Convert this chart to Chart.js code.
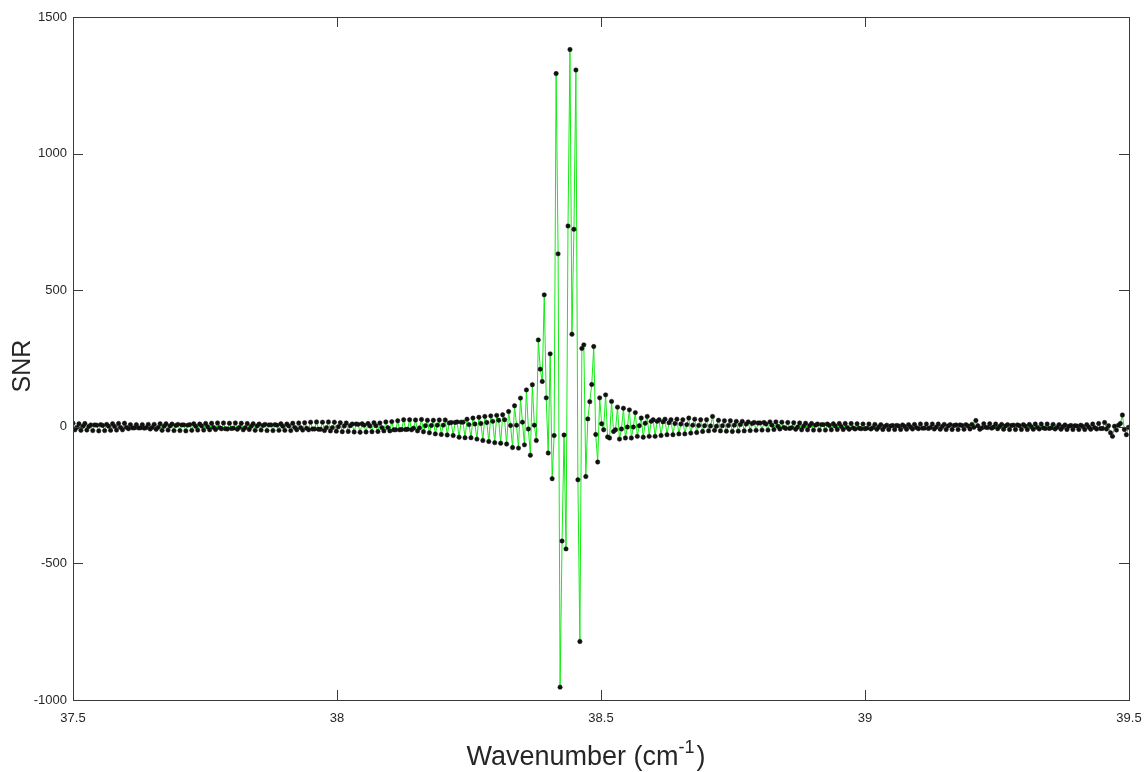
<!DOCTYPE html>
<html lang="en">
<head>
    <meta charset="UTF-8">
    <title>SNR vs Wavenumber</title>
    <style>
        body { margin: 0; background: #fff; }
        canvas { display: block; }
    </style>
</head>
<body>
    <canvas id="snrChart" width="1146" height="772"></canvas>

    <script src="https://cdn.jsdelivr.net/npm/chart.js"></script>
    <script>
        // wavenumber sampling grid (cm-1)
        const wnStart = 37.5;
        const wnStep = 0.00375;

        const xTicks = [37.5, 38, 38.5, 39, 39.5];
        const yTicks = [-1000, -500, 0, 500, 1000, 1500];

        // SNR values, one per sample
        const snr = [
            13,-11,-2, 11,-13,2, 12,-12,1, 7,-14,7, 6,-15,8,
            5,-14,9, 2,-13,11, 1,-12,12, -2,-11,13, -2,-7,8,
            -4,-4,8, -4,-4,8, -5,-3,9, -8,-2,9, -9,-2,11,
            -13,2,11, -12,3,10, -14,5,9, -14,7,7, -15,6,8,
            -13,11,2, -12,10,3, -12,12,0, -11,13,-2, -10,14,-3,
            -7,14,-7, -8,13,-6, -5,14,-9, -2,13,-11, -3,12,-10,
            2,11,-13, 3,10,-12, 5,9,-14, 7,7,-14, 8,6,-13,
            11,2,-13, 10,3,-14, 13,-2,-11, 14,-3,-12, 15,-5,-11,
            17,-8,-8, 18,-9,-9, 17,-14,-3, 18,-15,-3, 17,-16,0,
            15,-18,3, 14,-17,4, 10,-19,10, 9,-20,11, 6,-19,12,
            3,-18,15, 4,-17,14, -3,-15,18, -3,-15,19, -11,-11,22,
            -11,
            // build-up
            -10,26,-10, -9,26,-11, -5,25,-15, -4,27,-18, 4,24,-22,
            5,24,-26, 6,25,-28, 6,25,-30, 14,16,-32, 16,18,-38,
            17,17,-40, 28,8,-40, 32,10,-45, 35,12,-50, 38,16,-54,
            40,20,-58, 42,24,-60,
            // centre burst
            44,26,-63, 56,5,-76, 77,6,-78, 105,17,-66, 135,-8,-104, 154,6,-50,
            318,211,166,483,106,-96,267,-190,-32,1293,633,-953,-418,-30,-447,735,1381,339,
            723,1306,-194,-786,287,300,-182,29,92,155,294,-28,-129,106,11,-11,117,-37,
            // decay
            -41,93,-17,-11,72,-45,-8,68,-41,-1,62,-41,-1,52,
            -35,4,32,-38,13,38,-35,20,26,-35,20,26,-32,18,
            28,-29,15,26,-29,12,28,-26,10,26,-26,8,32,-23,
            6,28,-21,5,26,-17,4,26,-15,3,38,-13,2,24,
            -15,4,22, -16,5,22, -17,6,20, -16,8,20, -15,10,18,
            -14,12,16, -13,14,14, -12,16,10, -12,18,6, -10,18,2,
            -8,17,-2, -6,16,-6, -3,15,-9, -1,14,-11, 2,13,-11,
            4,12,-12, 6,10,-12, 8,8,-12, 10,5,-11, 11,3,-10,
            12,1,-10, 12,-2,-9, 12,-4,-8,
            // tail
            11,-5,-7, 10,-7,-5, 10,-8,-3, 9,-9,-1, 8,-10,1,
            6,-10,3, 5,-10,5, 3,-10,7, 1,-9,8, -1,-8,9,
            -3,-7,10, -5,-5,10, -6,-3,10, -8,-1,10, -9,1,9,
            -10,3,8, -10,5,7, -10,7,5, -9,8,3, -8,9,-2,
            23,4,-9, -4,11,-2, -3,11,-5, -1,10,-7, 1,9,-9,
            3,8,-10, 5,6,-10, 7,4,-10, 8,2,-10, 9,0,-9,
            10,-2,-8, 10,-4,-6, 10,-6,-4, 9,-8,-2, 8,-9,0,
            7,-10,2, 5,-10,4, 3,-10,6, 1,-10,8, -1,-9,10,
            -3,-8,12, -6,-6,16, -8,4,-22, -35,2,-12, 6,12,43,
            -10,-29,-2
        ];

        const FONT = '"Liberation Sans", Arial, sans-serif';
        const AXIS_COLOR = '#3a3a3a';
        const TICK_LEN = 10;

        const points = snr.map((v, i) => ({ x: wnStart + i * wnStep, y: v }));

        // box round the plot plus MATLAB style inward ticks
        const framePlugin = {
            id: 'frame',
            afterDatasetsDraw(chart) {
                const { ctx, chartArea: a, scales: { x, y } } = chart;
                ctx.save();
                ctx.strokeStyle = AXIS_COLOR;
                ctx.lineWidth = 1;
                ctx.strokeRect(a.left + 0.5, a.top + 0.5, a.right - a.left, a.bottom - a.top);
                ctx.beginPath();
                xTicks.forEach(v => {
                    const px = Math.round(x.getPixelForValue(v)) + 0.5;
                    ctx.moveTo(px, a.bottom);
                    ctx.lineTo(px, a.bottom - TICK_LEN);
                    ctx.moveTo(px, a.top);
                    ctx.lineTo(px, a.top + TICK_LEN);
                });
                yTicks.forEach(v => {
                    const py = Math.round(y.getPixelForValue(v)) + 0.5;
                    ctx.moveTo(a.left, py);
                    ctx.lineTo(a.left + TICK_LEN, py);
                    ctx.moveTo(a.right, py);
                    ctx.lineTo(a.right - TICK_LEN, py);
                });
                ctx.stroke();
                ctx.restore();
            }
        };

        // axis titles, x one has a superscript
        const titlePlugin = {
            id: 'titles',
            afterDraw(chart) {
                const { ctx } = chart;
                ctx.save();
                ctx.fillStyle = '#262626';
                ctx.textBaseline = 'alphabetic';

                ctx.save();
                ctx.font = '25px ' + FONT;
                ctx.textAlign = 'center';
                ctx.translate(30, 366);
                ctx.rotate(-Math.PI / 2);
                ctx.fillText('SNR', 0, 0);
                ctx.restore();

                const main = 'Wavenumber (cm';
                const sup = '-1';
                const close = ')';
                ctx.font = '27px ' + FONT;
                const w1 = ctx.measureText(main).width;
                const w3 = ctx.measureText(close).width;
                ctx.font = '18px ' + FONT;
                const w2 = ctx.measureText(sup).width;
                const total = w1 + w2 + w3 + 2;
                let xx = 586 - total / 2;
                const base = 765;
                ctx.textAlign = 'left';
                ctx.font = '27px ' + FONT;
                ctx.fillText(main, xx, base);
                xx += w1;
                ctx.font = '18px ' + FONT;
                ctx.fillText(sup, xx, base - 12);
                xx += w2 + 2;
                ctx.font = '27px ' + FONT;
                ctx.fillText(close, xx, base);
                ctx.restore();
            }
        };

        const ctx = document.getElementById('snrChart').getContext('2d');
        const chart = new Chart(ctx, {
            type: 'line',
            data: {
                datasets: [{
                    data: points,
                    borderColor: 'rgb(20,235,20)',
                    borderWidth: 1,
                    tension: 0,
                    pointRadius: 2.2,
                    pointBackgroundColor: '#111',
                    pointBorderColor: '#111',
                    pointBorderWidth: 0.5,
                    fill: false
                }]
            },
            options: {
                responsive: false,
                animation: false,
                layout: { padding: { left: 0, right: 17, top: 17, bottom: 0 } },
                plugins: {
                    legend: { display: false },
                    tooltip: { enabled: false }
                },
                scales: {
                    x: {
                        type: 'linear',
                        min: 37.5,
                        max: 39.5,
                        afterBuildTicks: s => { s.ticks = xTicks.map(v => ({ value: v })); },
                        afterFit: s => {
                            s.height = 72;
                            s.paddingLeft = 0;
                            s.paddingRight = 0;
                        },
                        grid: { display: false, drawTicks: false },
                        border: { display: false },
                        ticks: {
                            color: '#262626',
                            font: { family: FONT, size: 13 },
                            padding: 11,
                            maxRotation: 0,
                            autoSkip: false,
                            callback: v => String(v)
                        }
                    },
                    y: {
                        min: -1000,
                        max: 1500,
                        afterBuildTicks: s => { s.ticks = yTicks.map(v => ({ value: v })); },
                        afterFit: s => {
                            s.width = 73;
                            s.paddingTop = 0;
                            s.paddingBottom = 0;
                        },
                        grid: { display: false, drawTicks: false },
                        border: { display: false },
                        ticks: {
                            color: '#262626',
                            font: { family: FONT, size: 13 },
                            padding: 6,
                            callback: v => String(v)
                        }
                    }
                }
            },
            plugins: [framePlugin, titlePlugin]
        });
    </script>
</body>
</html>
